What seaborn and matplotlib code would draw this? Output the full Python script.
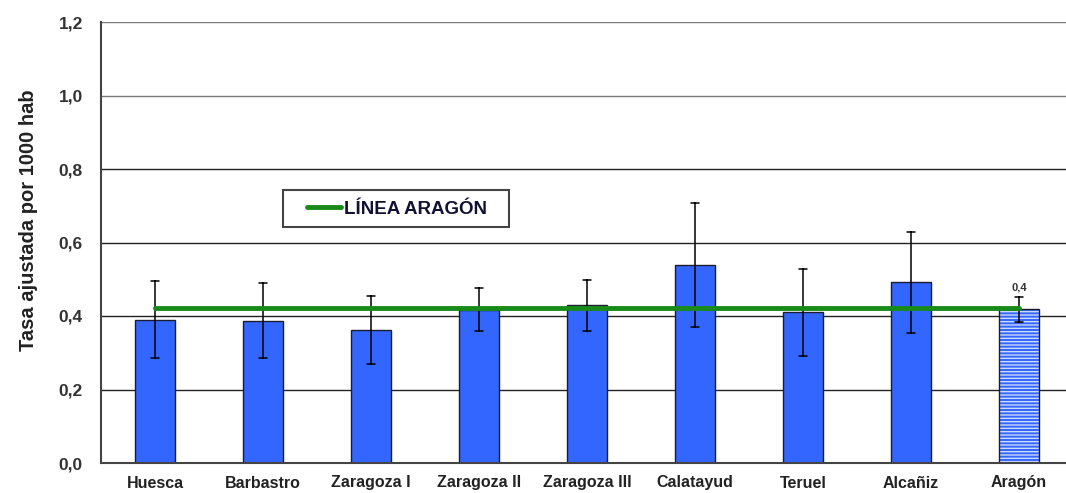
import numpy as np
import pandas as pd
import seaborn as sns
import matplotlib.pyplot as plt
from matplotlib.patches import Rectangle

"""Data read from the chart"""
zonas = ['Huesca', 'Barbastro', 'Zaragoza I', 'Zaragoza II', 'Zaragoza III',
         'Calatayud', 'Teruel', 'Alcañiz', 'Aragón']
tasa = [0.389, 0.386, 0.362, 0.416, 0.430, 0.539, 0.411, 0.493, 0.419]
ic_inf = [0.286, 0.286, 0.270, 0.359, 0.359, 0.370, 0.291, 0.354, 0.384]
ic_sup = [0.495, 0.490, 0.454, 0.476, 0.498, 0.707, 0.528, 0.629, 0.452]
linea_aragon = 0.422
yticks = [0.0, 0.2, 0.4, 0.6, 0.8, 1.0, 1.2]

"""Long table: low / value / high per zone so median = value, range = CI"""
df = pd.DataFrame({
    'zona': np.repeat(zonas, 3),
    'valor': np.ravel(np.column_stack([ic_inf, tasa, ic_sup])),
})

sns.set_style('white')
plt.rcParams['font.family'] = ['Liberation Sans', 'DejaVu Sans']

fig = plt.figure(figsize=(10.66, 4.93), dpi=100)
ax = fig.add_axes([101 / 1066, 30 / 493, 965 / 1066, 441 / 493])

"""Grid lines behind the bars"""
for t in yticks[1:]:
    ax.axhline(t, color='#222222' if t < 1.0 else '#777777', lw=1.0, zorder=0)

sns.barplot(ax=ax, data=df, x='zona', y='valor', order=zonas,
            estimator=np.median, errorbar=lambda v: (v.min(), v.max()),
            color='#3366FF', saturation=1, width=0.37,
            edgecolor='#1c1c2c', linewidth=1.0,
            err_kws={'color': 'black', 'linewidth': 1.1}, capsize=0.075, zorder=2)

"""Hatched Aragón bar"""
p = ax.patches[-1]
p.set_hatch('-----')
p._hatch_color = (1, 1, 1, 0.75)

"""Aragón reference line"""
ax.plot([0, len(zonas) - 1], [linea_aragon] * 2, color='#178a17', lw=3.5,
        zorder=3, label='LÍNEA ARAGÓN')

ax.text(len(zonas) - 1, ic_sup[-1] + 0.012, '0,4', ha='center', va='bottom',
        fontsize=8, fontweight='bold', color='#333333')

ax.set_xlim(-0.5, 8.435)
ax.set_ylim(0, 1.2)
ax.set_yticks(yticks)
ax.set_yticklabels([f'{t:.1f}'.replace('.', ',') for t in yticks],
                   fontsize=12.5, fontweight='bold', color='#333333')
ax.tick_params(axis='y', length=0, pad=13)
ax.tick_params(axis='x', length=0, pad=9)
for lbl in ax.get_xticklabels():
    lbl.set_fontsize(11.5)
    lbl.set_fontweight('bold')
    lbl.set_color('#222222')
ax.set_xlabel('')
ax.set_ylabel('Tasa ajustada por 1000 hab', fontsize=14.5, fontweight='bold',
              color='#222222')
ax.yaxis.set_label_coords(-0.0655, 0.551)

for s in ['top', 'right']:
    ax.spines[s].set_visible(False)
for s in ['left', 'bottom']:
    ax.spines[s].set_color('#444444')
    ax.spines[s].set_linewidth(1.5)

"""Legend without its own frame, boxed like the original"""
leg = ax.legend(loc='center', bbox_to_anchor=(0.3725, 0.576),
                bbox_transform=fig.transFigure, frameon=False,
                handlelength=1.8, handletextpad=0.15,
                prop={'weight': 'bold', 'size': 13.5})
for t in leg.get_texts():
    t.set_color('#111133')
fig.patches.append(Rectangle((283 / 1066, 1 - 227 / 493), 226 / 1066, 37 / 493,
                             transform=fig.transFigure, fill=False,
                             edgecolor='#444444', linewidth=1.5, zorder=5))

fig.savefig('out.png', dpi=100)
